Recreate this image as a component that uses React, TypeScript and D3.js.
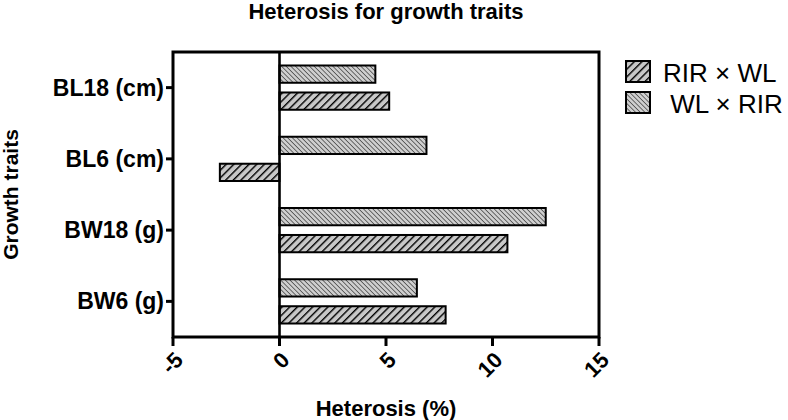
import React from "react";
import * as d3 from "d3";

const categories = ["BL18 (cm)", "BL6 (cm)", "BW18 (g)", "BW6 (g)"];
const seriesNames = ["WL × RIR", "RIR × WL"];
const wlxrir = [4.5, 6.9, 12.5, 6.45];
const rirxwl = [5.15, -2.8, 10.7, 7.8];
const xTicks = [-5, 0, 5, 10, 15];

const W = 788, H = 420;
const M = { left: 173, right: 599, top: 52, bottom: 337 };
const FONT = "Liberation Sans, Arial, Helvetica, sans-serif";

export default function App() {
  const x = d3.scaleLinear().domain([-5, 15]).range([M.left, M.right]);
  const y = d3.scaleBand().domain(categories).range([M.top, M.bottom]);
  const inner = d3.scaleBand().domain(seriesNames).range([0, y.bandwidth()]).paddingInner(0.36).paddingOuter(0.5);
  const series = [
    { name: "WL × RIR", values: wlxrir, fill: "url(#hatchB)" },
    { name: "RIR × WL", values: rirxwl, fill: "url(#hatchF)" },
  ];
  return (
    <svg width={W} height={H} style={{ position: "absolute", left: 0, top: 0, background: "#fff" }} fontFamily={FONT}>
      <defs>
        <pattern id="hatchF" patternUnits="userSpaceOnUse" width="5.4" height="5.4" patternTransform="rotate(45)">
          <rect width="5.4" height="5.4" fill="#c8c8c8" />
          <line x1="0" y1="0" x2="0" y2="5.4" stroke="#000" strokeWidth="2.8" />
        </pattern>
        <pattern id="hatchB" patternUnits="userSpaceOnUse" width="3.3" height="3.3" patternTransform="rotate(-45)">
          <rect width="3.3" height="3.3" fill="#cfcfcf" />
          <line x1="0" y1="0" x2="0" y2="3.3" stroke="#222" strokeWidth="1.2" />
        </pattern>
      </defs>
      <text x={(M.left + M.right) / 2} y={19} textAnchor="middle" fontWeight="bold" fontSize={22}>Heterosis for growth traits</text>
      {series.map((s) =>
        s.values.map((v, i) => {
          const x0 = x(Math.min(0, v));
          const x1 = x(Math.max(0, v));
          return (
            <rect key={s.name + i} x={x0} y={(y(categories[i]) as number) + (inner(s.name) as number)}
              width={x1 - x0} height={inner.bandwidth()} fill={s.fill} stroke="#000" strokeWidth={2} />
          );
        })
      )}
      <line x1={x(0)} x2={x(0)} y1={M.top} y2={M.bottom} stroke="#000" strokeWidth={2.6} />
      <rect x={M.left} y={M.top} width={M.right - M.left} height={M.bottom - M.top} fill="none" stroke="#000" strokeWidth={3} />
      {categories.map((c) => {
        const cy = (y(c) as number) + y.bandwidth() / 2;
        return (
          <g key={c}>
            <line x1={M.left - 7} x2={M.left} y1={cy} y2={cy} stroke="#000" strokeWidth={3} />
            <text x={M.left - 9} y={cy} dy="0.35em" textAnchor="end" fontWeight="bold" fontSize={23}>{c}</text>
          </g>
        );
      })}
      {xTicks.map((t) => (
        <g key={t}>
          <line x1={x(t)} x2={x(t)} y1={M.bottom} y2={M.bottom + 9} stroke="#000" strokeWidth={3} />
          <text transform={`translate(${x(t) + 6},${M.bottom + 19}) rotate(-45)`} textAnchor="end" dy="0.35em" fontWeight="bold" fontSize={22}>{t}</text>
        </g>
      ))}
      <text x={(M.left + M.right) / 2} y={416} textAnchor="middle" fontWeight="bold" fontSize={22}>Heterosis (%)</text>
      <text transform={`translate(18,${(M.top + M.bottom) / 2}) rotate(-90)`} textAnchor="middle" fontWeight="bold" fontSize={21}>Growth traits</text>
      <g>
        <rect x={626} y={61} width={24} height={21} fill="url(#hatchF)" stroke="#000" strokeWidth={2} />
        <text x={663} y={82} fontSize={26}>RIR × WL</text>
        <rect x={626} y={92} width={24} height={21} fill="url(#hatchB)" stroke="#000" strokeWidth={2} />
        <text x={663} y={113} fontSize={26} style={{ whiteSpace: "pre" }}>{" WL × RIR"}</text>
      </g>
    </svg>
  );
}
